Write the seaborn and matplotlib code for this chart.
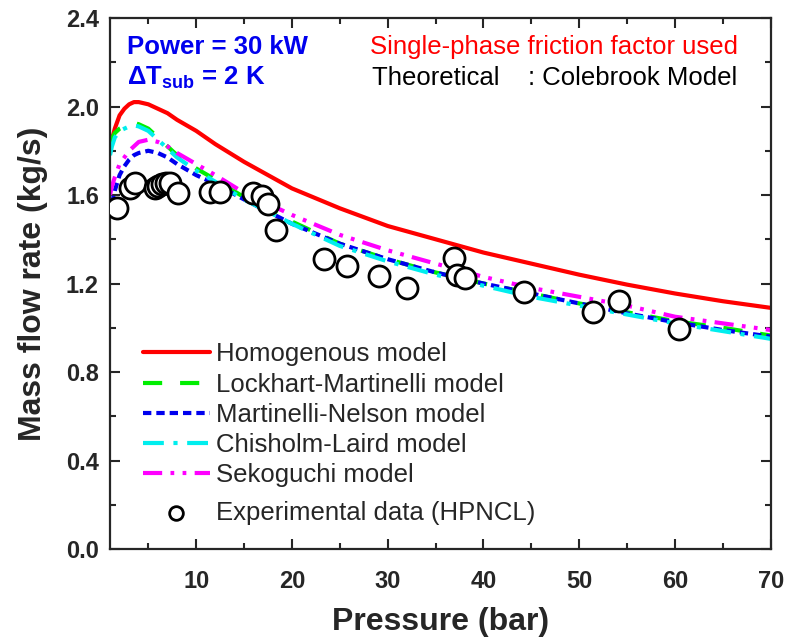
import matplotlib
matplotlib.use("Agg")
import matplotlib.pyplot as plt
import seaborn as sns
import numpy as np
import pandas as pd
from matplotlib.ticker import MultipleLocator

# ---------------- data ----------------
pressure = [1, 1.2, 1.5, 2, 2.5, 3, 3.5, 4, 5, 6, 7, 8, 10, 12, 15, 20, 25, 30, 35, 40, 45, 50,
            55, 60, 65, 70]
homogenous = [1.79, 1.85, 1.90, 1.96, 1.99, 2.01, 2.02, 2.02, 2.01, 1.99, 1.97, 1.94, 1.89, 1.83,
              1.75, 1.63, 1.54, 1.46, 1.40, 1.34, 1.29, 1.24, 1.195, 1.155, 1.12, 1.09]
lockhart = [1.83, 1.855, 1.88, 1.90, 1.91, 1.92, 1.925, 1.92, 1.90, 1.86, 1.82, 1.78, 1.72, 1.67,
            1.59, 1.48, 1.38, 1.31, 1.25, 1.20, 1.155, 1.11, 1.07, 1.03, 1.00, 0.965]
nelson = [1.50, 1.56, 1.62, 1.69, 1.73, 1.76, 1.78, 1.79, 1.80, 1.79, 1.77, 1.74, 1.69, 1.65,
          1.58, 1.47, 1.38, 1.31, 1.25, 1.20, 1.155, 1.11, 1.065, 1.025, 0.99, 0.96]
chisholm = [1.78, 1.82, 1.86, 1.89, 1.90, 1.91, 1.915, 1.91, 1.89, 1.85, 1.81, 1.77, 1.71, 1.66,
            1.58, 1.47, 1.37, 1.30, 1.24, 1.19, 1.14, 1.10, 1.06, 1.02, 0.985, 0.95]
sekoguchi = [1.60, 1.64, 1.68, 1.74, 1.77, 1.80, 1.82, 1.84, 1.85, 1.84, 1.82, 1.79, 1.74, 1.69,
             1.61, 1.51, 1.42, 1.35, 1.29, 1.23, 1.18, 1.14, 1.10, 1.05, 1.02, 0.99]

exp_p = [1.7, 3.1, 3.6, 5.7, 6.0, 6.4, 6.8, 7.3, 8.1, 11.4, 12.5, 15.9, 16.9, 17.5, 18.3,
         23.3, 25.8, 29.1, 32.0, 36.9, 37.2, 38.1, 44.2, 51.4, 54.2, 60.4]
exp_m = [1.54, 1.63, 1.655, 1.63, 1.64, 1.65, 1.655, 1.655, 1.61, 1.615, 1.615, 1.61, 1.595, 1.56,
         1.44, 1.31, 1.28, 1.235, 1.18, 1.315, 1.24, 1.225, 1.16, 1.07, 1.12, 0.995]

labels = ["Homogenous model", "Lockhart-Martinelli model", "Martinelli-Nelson model",
          "Chisholm-Laird model", "Sekoguchi model"]
series = [homogenous, lockhart, nelson, chisholm, sekoguchi]
colors = ["#ff0000", "#00ee00", "#0000ee", "#00eeee", "#ff00ff"]
styles = ["-", (0, (4.6, 4.3)), (0, (2.0, 1.2)), (0, (5.0, 2.3, 1.0, 2.3)),
          (0, (4.6, 2.0, 0.9, 2.0, 0.9, 2.0))]
exp_label = "Experimental data (HPNCL)"

# ---------------- style ----------------
sns.set_style("ticks")
plt.rcParams["font.family"] = ["Liberation Sans", "DejaVu Sans"]
plt.rcParams["mathtext.fontset"] = "custom"
plt.rcParams["mathtext.rm"] = "Liberation Sans"
plt.rcParams["mathtext.bf"] = "Liberation Sans:bold"
plt.rcParams["mathtext.it"] = "Liberation Sans:italic"

fig = plt.figure(figsize=(7.88, 6.39), dpi=100)
ax = fig.add_axes([0.1396, 0.1408, 0.8385, 0.831])

line_handles = []
for lab, vals, col, ls in zip(labels, series, colors, styles):
    df = pd.DataFrame({"p": pressure, "m": vals})
    sns.lineplot(data=df, x="p", y="m", ax=ax, color=col, linewidth=3.0, linestyle=ls,
                 label=lab, legend=False)
    line_handles.append(ax.lines[-1])

sns.scatterplot(x=exp_p, y=exp_m, ax=ax, marker="o", s=230, facecolor="white",
                edgecolor="black", linewidth=2.0, zorder=5, label=exp_label, legend=False)
scat = ax.collections[-1]

ax.set_xlim(1, 70)
ax.set_ylim(0, 2.4)
ax.xaxis.set_minor_locator(MultipleLocator(5))
ax.yaxis.set_minor_locator(MultipleLocator(0.2))
ax.set_xticks([10, 20, 30, 40, 50, 60, 70])
ax.set_xticklabels(["10", "20", "30", "40", "50", "60", "70"])
ax.set_yticks([0.0, 0.4, 0.8, 1.2, 1.6, 2.0, 2.4])
ax.set_yticklabels(["0.0", "0.4", "0.8", "1.2", "1.6", "2.0", "2.4"])

ax.tick_params(which="both", direction="in", top=True, right=True, width=1.5)
ax.tick_params(which="major", length=7, labelsize=17)
ax.tick_params(axis="y", which="major", pad=8)
ax.tick_params(axis="x", which="major", pad=15)
ax.tick_params(which="minor", length=4)
for lbl in ax.get_xticklabels() + ax.get_yticklabels():
    lbl.set_fontweight("bold")
for sp in ax.spines.values():
    sp.set_linewidth(1.6)
    sp.set_visible(True)

ax.set_xlabel("Pressure (bar)", fontsize=23, fontweight="bold", labelpad=10)
ax.set_ylabel("Mass flow rate (kg/s)", fontsize=23, fontweight="bold", labelpad=13)

ax.text(0.026, 0.945, "Power = 30 kW", transform=ax.transAxes, color="#0000ee",
        fontsize=18.5, fontweight="bold", va="center", ha="left")
ax.text(0.026, 0.887, r"ΔT$_{\mathbf{sub}}$ = 2 K", transform=ax.transAxes, color="#0000ee",
        fontsize=18.5, fontweight="bold", va="center", ha="left")
ax.text(0.393, 0.945, "Single-phase friction factor used", transform=ax.transAxes,
        color="#ff0000", fontsize=18.5, va="center", ha="left")
ax.text(0.397, 0.887, "Theoretical    : Colebrook Model", transform=ax.transAxes,
        color="black", fontsize=18.5, va="center", ha="left")

leg1 = ax.legend(handles=line_handles, labels=labels, loc="upper left",
                 bbox_to_anchor=(0.05, 0.389), frameon=False, fontsize=18.5,
                 handlelength=2.6, handletextpad=0.25, labelspacing=0.24, borderpad=0,
                 borderaxespad=0)
ax.add_artist(leg1)
ax.legend(handles=[scat], labels=[exp_label], loc="upper left",
          bbox_to_anchor=(0.05, 0.091), frameon=False, fontsize=18.5,
          handlelength=2.6, handletextpad=0.25, borderpad=0, borderaxespad=0,
          markerscale=0.65)

fig.savefig("out.png", dpi=100)
